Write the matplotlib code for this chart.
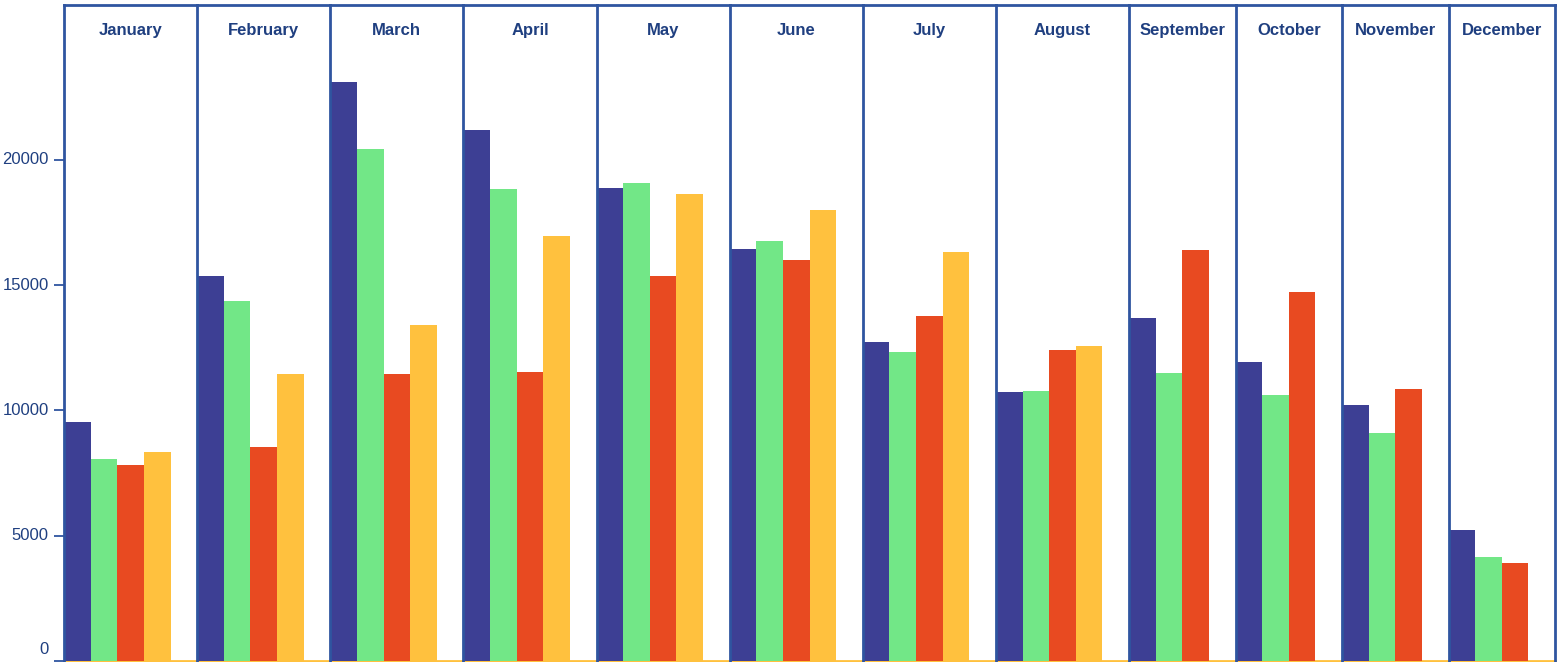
import matplotlib
matplotlib.use("Agg")
import matplotlib.pyplot as plt
from matplotlib.gridspec import GridSpec
from matplotlib.lines import Line2D

months = ["January", "February", "March", "April", "May", "June", "July",
          "August", "September", "October", "November", "December"]
series_a = [9540, 15360, 23100, 21190, 18870, 16440, 12730, 10730, 13690, 11930, 10210, 5230]
series_b = [8060, 14365, 20430, 18830, 19070, 16760, 12330, 10770, 11490, 10610, 9100, 4150]
series_c = [7820, 8540, 11450, 11530, 15360, 16000, 13770, 12410, 16400, 14720, 10850, 3910]
series_d = [8340, 11450, 13410, 16960, 18630, 18000, 16320, 12570, None, None, None, None]
yticks = [0, 5000, 10000, 15000, 20000]

colors = ["#3d3f94", "#72e787", "#e84a21", "#ffc13e"]
border = "#2f55a0"
textc = "#1f3f80"

W, H = 1562, 662
fig = plt.figure(figsize=(W / 100, H / 100), dpi=100)

nbars = []
for i in range(12):
    vals = [series_a[i], series_b[i], series_c[i], series_d[i]]
    nbars.append(sum(v is not None for v in vals))
ratios = [n + 1 for n in nbars]

gs = GridSpec(1, 12, figure=fig, width_ratios=ratios, wspace=0,
              left=64 / W, right=1555 / W, bottom=1 / H, top=1 - 5 / H)
ymax = 26180
axes = []
for i, m in enumerate(months):
    ax = fig.add_subplot(gs[0, i])
    axes.append(ax)
    vals = [series_a[i], series_b[i], series_c[i], series_d[i]]
    k = 0
    for j, v in enumerate(vals):
        if v is None:
            continue
        ax.bar(k, v, width=1.0, align="edge", color=colors[j], linewidth=0, zorder=2)
        k += 1
    ax.set_xlim(0, nbars[i] + 1)
    ax.set_ylim(0, ymax)
    ax.set_xticks([])
    ax.spines["left"].set_visible(False)
    ax.spines["right"].set_visible(False)
    ax.spines["top"].set_color(border)
    ax.spines["top"].set_linewidth(2)
    ax.spines["bottom"].set_color("#ffc13e")
    ax.spines["bottom"].set_linewidth(2)
    ax.spines["bottom"].set_zorder(1)
    ax.text(0.5, 1 - 30 / 656, m, transform=ax.transAxes, ha="center", va="baseline",
            fontsize=12, fontweight="bold", color=textc, family="Liberation Sans")
    if i == 0:
        ax.set_yticks(yticks)
        ax.set_yticklabels([])
        ax.tick_params(axis="y", length=7, width=1.3, color=border, direction="out")
        for t in yticks:
            yy = t if t > 0 else 450
            ax.annotate(str(t), xy=(0, yy), xycoords=("axes fraction", "data"),
                        xytext=(-11, 0), textcoords="offset points", ha="right", va="center",
                        fontsize=12, color=textc, family="Liberation Sans",
                        annotation_clip=False)
    else:
        ax.set_yticks([])

xs = [a.get_position().x0 for a in axes] + [axes[-1].get_position().x1]
p = axes[0].get_position()
for x in xs:
    fig.add_artist(Line2D([x, x], [p.y0, p.y1], color=border, linewidth=2,
                          transform=fig.transFigure, zorder=5))

fig.savefig("out.png", dpi=100)
